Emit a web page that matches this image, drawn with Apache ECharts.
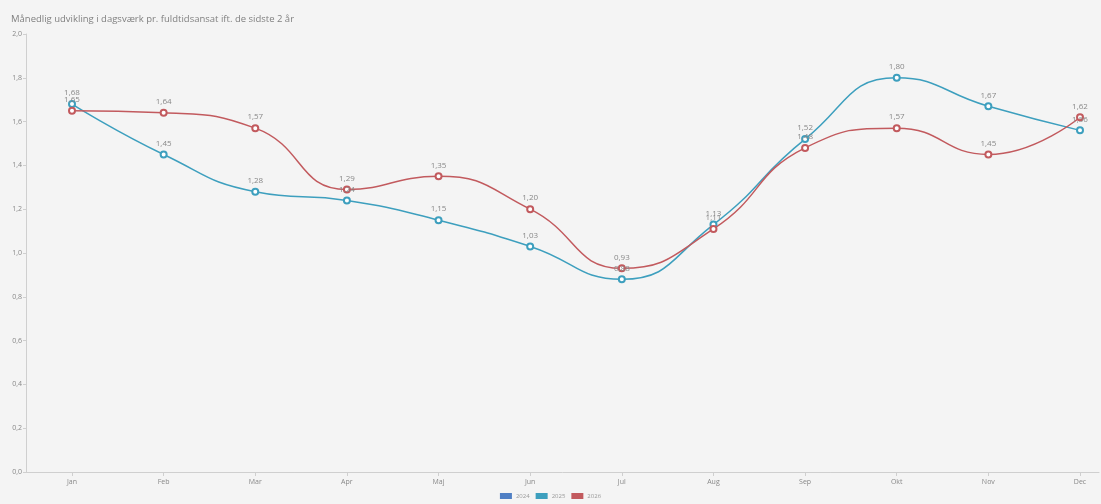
<!DOCTYPE html>
<html>
<head>
<meta charset="utf-8">
<script src="https://cdn.jsdelivr.net/npm/echarts@6/dist/echarts.min.js"></script>
<style>
html,body{margin:0;padding:0;background:#f4f4f4;}
#c{width:1101px;height:504px;}
</style>
</head>
<body>
<div id="c"></div>
<script>
const months = ['Jan','Feb','Mar','Apr','Maj','Jun','Jul','Aug','Sep','Okt','Nov','Dec'];
const seriesNames = ['2024','2025','2026'];
const values2024 = [];
const values2025 = [1.68,1.45,1.28,1.24,1.15,1.03,0.88,1.13,1.52,1.80,1.67,1.56];
const values2026 = [1.65,1.64,1.57,1.29,1.35,1.20,0.93,1.11,1.48,1.57,1.45,1.62];

const font = 'Open Sans';
const colors = ['#4f7fc4','#3d9fbe','#c25a5e'];
const axisColor = '#cfcfcf';

function mkSeries(name, data, color) {
  return {
    name, type: 'line', data, smooth: true,
    symbol: 'emptyCircle', symbolSize: 6,
    lineStyle: {color, width: 1.5},
    itemStyle: {color, borderColor: color, borderWidth: 1.5},
    label: {show: true, position: 'top', distance: 3, color: '#888', fontSize: 8, fontFamily: font,
      formatter: p => Number(p.value).toFixed(2).replace('.', ',')}
  };
}

const chart = echarts.init(document.getElementById('c'));
chart.setOption({
  backgroundColor: '#f4f4f4',
  animation: false,
  color: colors,
  title: {text: 'Månedlig udvikling i dagsværk pr. fuldtidsansat ift. de sidste 2 år', left: 6, top: 9,
    textStyle: {fontSize: 9.5, fontWeight: 'normal', color: '#808080', fontFamily: font}},
  legend: {bottom: 0, left: 'center', itemWidth: 10, itemHeight: 4, itemGap: 6,
    icon: 'rect', textStyle: {fontSize: 6, color: '#999', fontFamily: font},
    data: seriesNames},
  grid: [
    {left: 72, right: 21, top: 34, bottom: 32},
    {left: 26, right: 2, top: 34, bottom: 32}
  ],
  xAxis: [
    {type: 'category', data: months, boundaryGap: false, gridIndex: 0,
      axisLine: {show: false},
      axisTick: {show: true, lineStyle: {color: axisColor}, length: 4},
      axisLabel: {color: '#888', fontSize: 7, fontFamily: font, margin: 6}},
    {type: 'value', gridIndex: 1, min: 0, max: 1,
      axisLine: {show: true, lineStyle: {color: axisColor}},
      axisTick: {show: false}, axisLabel: {show: false}, splitLine: {show: false}}
  ],
  yAxis: [
    {type: 'value', min: 0, max: 2, interval: 0.2, gridIndex: 0, offset: 46,
      axisLine: {show: true, lineStyle: {color: axisColor}},
      axisTick: {show: true, length: 3, lineStyle: {color: axisColor}},
      splitLine: {show: false},
      axisLabel: {color: '#888', fontSize: 7, fontFamily: font, margin: 4,
        formatter: v => v.toFixed(1).replace('.', ',')}},
    {type: 'value', gridIndex: 1, min: 0, max: 1, show: false}
  ],
  series: [
    mkSeries(seriesNames[0], values2024, colors[0]),
    mkSeries(seriesNames[1], values2025, colors[1]),
    mkSeries(seriesNames[2], values2026, colors[2])
  ]
});
</script>
</body>
</html>
